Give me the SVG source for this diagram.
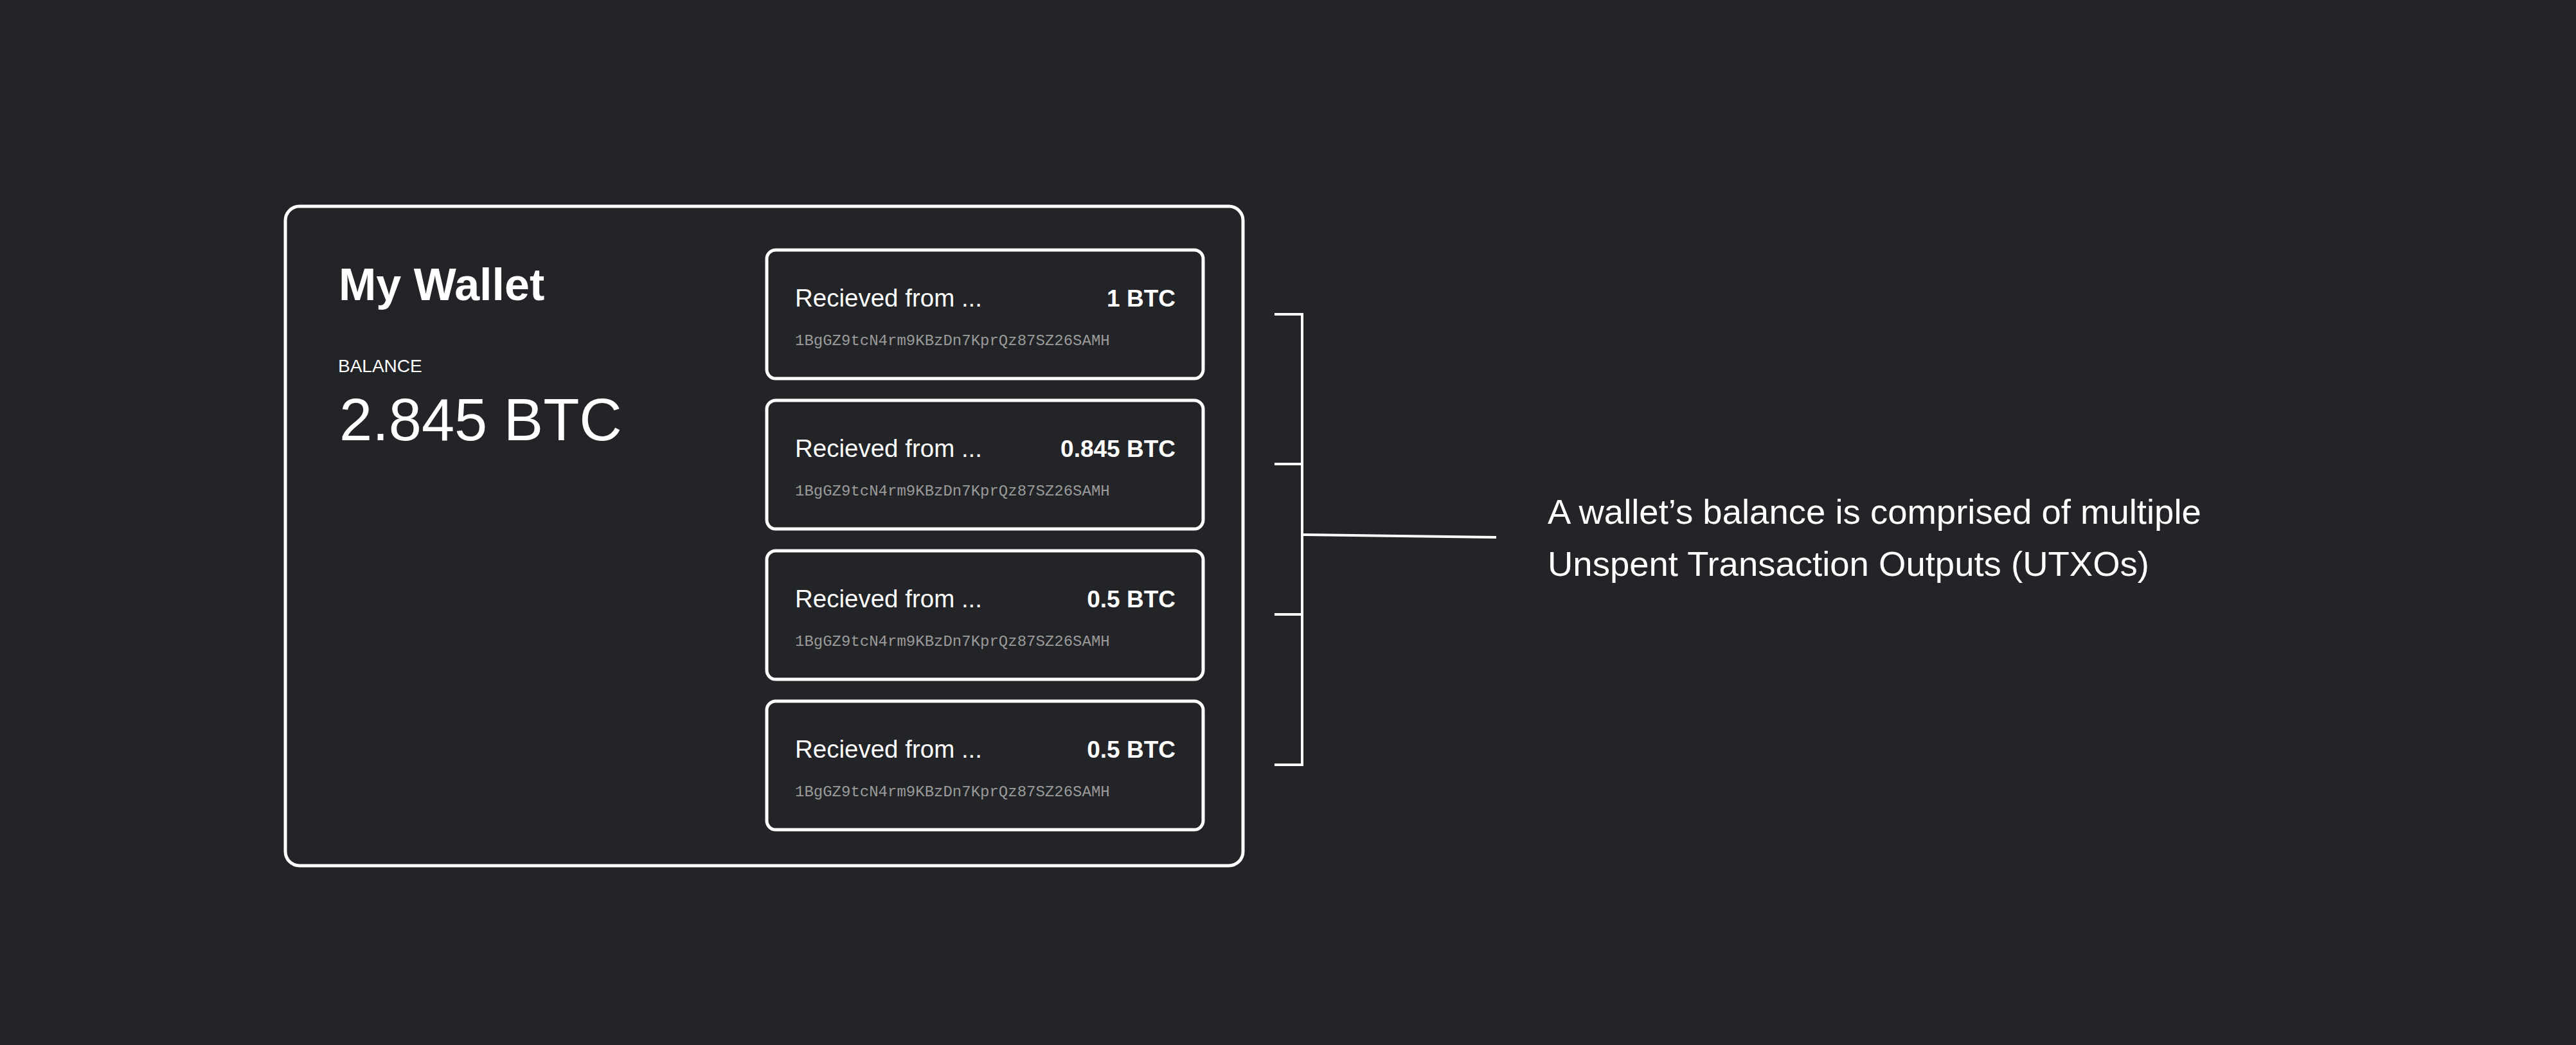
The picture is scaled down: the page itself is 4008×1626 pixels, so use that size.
<svg xmlns="http://www.w3.org/2000/svg" width="4008" height="1626" viewBox="0 0 4008 1626">
  <style>
    .bg { fill: #232427; }
    .box { fill: none; stroke: #ffffff; stroke-width: 5; }
    .txt { font-family: "Liberation Sans", Arial, sans-serif; fill: #ffffff; }
    .title { font-size: 70px; font-weight: 600; }
    .label { font-size: 28px; font-weight: 500; }
    .balance { font-size: 92px; font-weight: 300; }
    .from { font-size: 38.5px; }
    .amt { font-size: 37px; font-weight: 700; text-anchor: end; }
    .addr { font-family: "Liberation Mono", "Courier New", monospace; font-size: 24px; fill: #9a9a9a; }
    .note { font-size: 54.5px; font-weight: 300; }
    .conn { fill: none; stroke: #ffffff; stroke-width: 4; }
  </style>
  <rect class="bg" x="0" y="0" width="4008" height="1626"/>

  <g id="wallet">
    <rect class="box" x="444" y="321" width="1490" height="1026" rx="22" ry="22"/>
    <text class="txt title" x="527" y="467">My Wallet</text>
    <text class="txt label" x="526" y="579">BALANCE</text>
    <text class="txt balance" x="528" y="685">2.845 BTC</text>
  </g>

  <g id="utxo-1">
    <rect class="box" x="1193" y="389" width="679" height="200" rx="14" ry="14"/>
    <text class="txt from" x="1237" y="477">Recieved from ...</text>
    <text class="txt amt" x="1829" y="477">1 BTC</text>
    <text class="addr" x="1237" y="537">1BgGZ9tcN4rm9KBzDn7KprQz87SZ26SAMH</text>
  </g>

  <g id="utxo-2">
    <rect class="box" x="1193" y="623" width="679" height="200" rx="14" ry="14"/>
    <text class="txt from" x="1237" y="711">Recieved from ...</text>
    <text class="txt amt" x="1829" y="711">0.845 BTC</text>
    <text class="addr" x="1237" y="771">1BgGZ9tcN4rm9KBzDn7KprQz87SZ26SAMH</text>
  </g>

  <g id="utxo-3">
    <rect class="box" x="1193" y="857" width="679" height="200" rx="14" ry="14"/>
    <text class="txt from" x="1237" y="945">Recieved from ...</text>
    <text class="txt amt" x="1829" y="945">0.5 BTC</text>
    <text class="addr" x="1237" y="1005">1BgGZ9tcN4rm9KBzDn7KprQz87SZ26SAMH</text>
  </g>

  <g id="utxo-4">
    <rect class="box" x="1193" y="1091" width="679" height="200" rx="14" ry="14"/>
    <text class="txt from" x="1237" y="1179">Recieved from ...</text>
    <text class="txt amt" x="1829" y="1179">0.5 BTC</text>
    <text class="addr" x="1237" y="1239">1BgGZ9tcN4rm9KBzDn7KprQz87SZ26SAMH</text>
  </g>

  <g id="connectors">
    <path class="conn" d="M1983 489 H2026 V1190 H1983"/>
    <path class="conn" d="M1983 722 H2026"/>
    <path class="conn" d="M1983 956 H2026"/>
    <path class="conn" d="M2026 832 L2328 836" stroke-width="3"/>
  </g>

  <g id="annotation">
    <text class="txt note" x="2408" y="815">A wallet’s balance is comprised of multiple</text>
    <text class="txt note" x="2408" y="896">Unspent Transaction Outputs (UTXOs)</text>
  </g>
</svg>
